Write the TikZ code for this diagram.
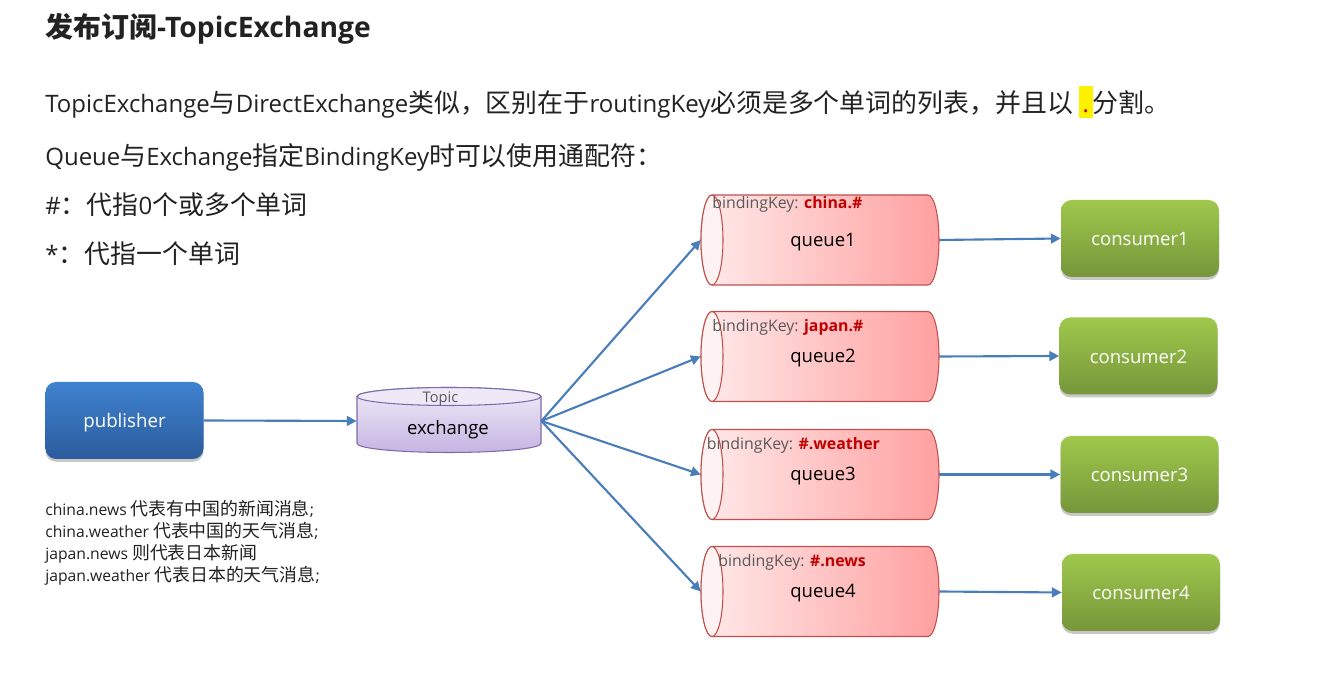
\documentclass[tikz,border=0pt]{standalone}
\usepackage{fontspec}
\setmainfont{Open Sans}
\newfontfamily\cjkA[Scale=1.08]{Noto Sans CJK SC}
\newfontfamily\cjkB[Scale=1.14]{Noto Sans CJK SC}
\newfontfamily\cjkT[Scale=0.99]{Noto Sans CJK SC}
\def\curcjk{\cjkA}
\XeTeXinterchartokenstate=1
\newcount\cjkc
\cjkc="4E00
\loop\XeTeXcharclass\cjkc=1 \advance\cjkc by 1 \ifnum\cjkc<"A000 \repeat
\XeTeXcharclass"FF0C=1 \XeTeXcharclass"FF1A=1 \XeTeXcharclass"FF1B=1 \XeTeXcharclass"3002=1
\XeTeXinterchartoks 0 1 = {\curcjk}
\XeTeXinterchartoks 4095 1 = {\curcjk}
\XeTeXinterchartoks 1 0 = {\rmfamily}
\XeTeXinterchartoks 1 4095 = {\rmfamily}
\usetikzlibrary{arrows.meta,shadows}
\definecolor{txt}{HTML}{222222}
\definecolor{gray6}{HTML}{595959}
\definecolor{keyred}{HTML}{C00000}
\definecolor{arr}{HTML}{4A7EBB}
\definecolor{pubT}{HTML}{3F82D0}
\definecolor{pubB}{HTML}{2B5C9C}
\definecolor{conT}{HTML}{9FC84C}
\definecolor{conB}{HTML}{76963A}
\definecolor{qL}{HTML}{FFEAEA}
\definecolor{qR}{HTML}{FFA0A0}
\definecolor{qE}{HTML}{FFF2F2}
\definecolor{qB}{HTML}{C0504D}
\definecolor{exT}{HTML}{F0ECF8}
\definecolor{exB}{HTML}{C6B4E2}
\definecolor{exTop}{HTML}{EEE8F7}
\definecolor{exD}{HTML}{7E6AAE}
\newcommand\hl[1]{{\setlength\fboxsep{0pt}\colorbox{yellow}{\rule[-3.1pt]{0pt}{18.1pt}\makebox[7.5pt]{\textcolor{keyred}{#1}}}}}
\tikzset{
  line/.style={anchor=base west, inner sep=0pt, text=txt, font=\fontsize{13.6}{16}\selectfont},
  note/.style={anchor=base west, inner sep=0pt, text=txt, font={\def\curcjk{\cjkB}\fontsize{8.9}{12}\selectfont}},
  box/.style={rounded corners=6pt, minimum width=158*0.5669pt, minimum height=77*0.5669pt, inner sep=0pt, text=white,
     text height=0.85em, text depth=0pt,
     drop shadow={shadow xshift=0pt, shadow yshift=-1.6pt, opacity=0.22, fill=black}},
  pub/.style={box, top color=pubT, bottom color=pubB, font=\fontsize{10.6}{12}\selectfont},
  cons/.style={box, top color=conT, bottom color=conB, font=\fontsize{10.5}{12}\selectfont},
  qbox/.style={inner sep=0pt, minimum width=238*0.5669pt, minimum height=90*0.5669pt},
  qlabel/.style={inner sep=0pt, text=black, font=\fontsize{10.5}{12}\selectfont},
  keylabel/.style={anchor=base west, inner sep=0pt, text=gray6, font=\fontsize{9}{10}\selectfont},
  flow/.style={draw=arr, line width=1.2pt, -{Triangle[length=5.5pt,width=5.5pt]}},
}
\newcommand\queue[6]{%
  \shade[left color=qL, right color=qR, draw=qB, line width=0.6pt]
    (712,#2+45) -- (928,#2+45) arc[start angle=90,end angle=-90,x radius=11,y radius=45]
    -- (712,#2-45) arc[start angle=270,end angle=90,x radius=11,y radius=45] -- cycle;
  \filldraw[fill=qE, draw=qB, line width=0.6pt] (712,#2) ellipse [x radius=11, y radius=45];
  \node[qbox] (#1) at (820,#2) {};
  \node[qlabel] (#1lab) at (823,#2-2) {#6};
  \node[keylabel] (#1key) at (#4,#2+#5) {bindingKey: \textcolor{keyred}{\bfseries #3}};
}
\begin{document}
\begin{tikzpicture}[x=0.5669pt,y=0.5669pt]
\useasboundingbox (0,0) rectangle (1323,683);
\fill[white] (0,0) rectangle (1323,683);

\node[anchor=base west, inner sep=0pt, text=txt, font={\def\curcjk{\cjkT}\fontsize{16}{18}\selectfont\bfseries}] (title) at (45,645.5) {发布订阅-TopicExchange};
\node[line] (l1) at (45,570.5) {TopicExchange与DirectExchange类似，区别在于routingKey必须是多个单词的列表，并且以 \hl{.}分割。};
\node[line] (l2) at (45,517.5) {Queue与Exchange指定BindingKey时可以使用通配符：};
\node[line] (l3) at (45,468.5) {\#：代指0个或多个单词};
\node[line] (l4) at (45,419.5) {*：代指一个单词};

\node[pub] (pub) at (124.5,262.5) {publisher};

% exchange cylinder
\shade[top color=exT, bottom color=exB, draw=exD, line width=0.6pt]
  (357,286.5) -- (357,239.5) arc[start angle=180,end angle=360,x radius=92,y radius=9]
  -- (541,286.5) arc[start angle=0,end angle=180,x radius=92,y radius=9] -- cycle;
\filldraw[fill=exTop, draw=exD, line width=0.6pt] (449,286.5) ellipse [x radius=92, y radius=9];
\node[inner sep=0pt, minimum width=184*0.5669pt, minimum height=40*0.5669pt] (ex) at (449,262) {};
\node[inner sep=0pt, text=gray6, font=\fontsize{8.3}{10}\selectfont] (topic) at (440.5,284.5) {Topic};
\node[inner sep=0pt, text=black, font=\fontsize{10.5}{12}\selectfont] (exlab) at (448,253.5) {exchange};

\queue{q1}{443}{china.\#}{712}{31}{queue1}
\queue{q2}{326.5}{japan.\#}{712}{25}{queue2}
\queue{q3}{208.5}{\#.weather}{706.5}{25}{queue3}
\queue{q4}{91.5}{\#.news}{718}{25}{queue4}

\node[cons] (c1) at (1140,444.5) {consumer1};
\node[cons] (c2) at (1138.5,327) {consumer2};
\node[cons] (c3) at (1139.5,208.5) {consumer3};
\node[cons] (c4) at (1141,90.5) {consumer4};

\draw[flow] (pub.east) -- (ex.west);
\draw[flow] (ex.east) -- (q1.west);
\draw[flow] (ex.east) -- (q2.west);
\draw[flow] (ex.east) -- (q3.west);
\draw[flow] (ex.east) -- (q4.west);
\draw[flow] (q1.east) -- (c1.west);
\draw[flow] (q2.east) -- (c2.west);
\draw[flow] (q3.east) -- (c3.west);
\draw[flow] (q4.east) -- (c4.west);

\node[note] (n1) at (45,167.5) {china.news 代表有中国的新闻消息;};
\node[note] (n2) at (45,145.5) {china.weather 代表中国的天气消息;};
\node[note] (n3) at (45,123.5) {japan.news 则代表日本新闻};
\node[note] (n4) at (45,101.5) {japan.weather 代表日本的天气消息;};
\end{tikzpicture}
\end{document}
